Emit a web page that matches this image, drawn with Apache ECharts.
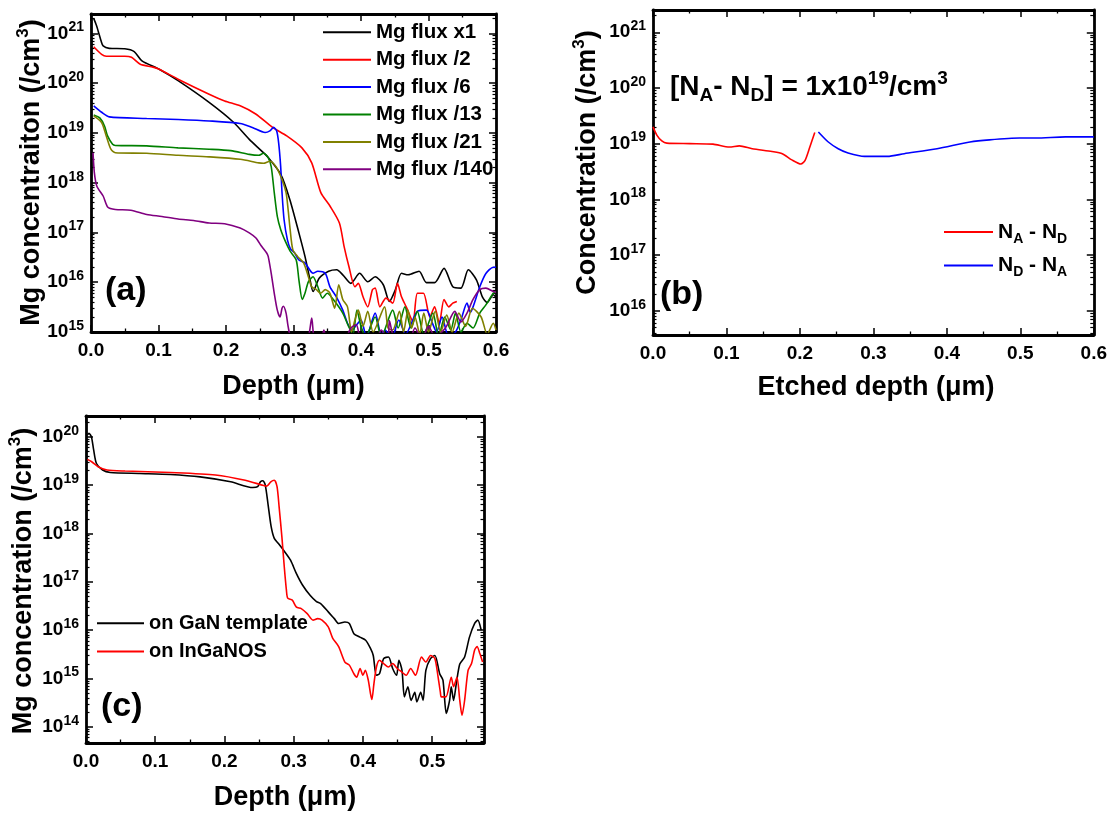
<!DOCTYPE html>
<html><head><meta charset="utf-8">
<script src="https://cdn.jsdelivr.net/npm/echarts@6/dist/echarts.min.js"></script>
<style>html,body{margin:0;padding:0;background:#fff}#c{width:1110px;height:816px}</style>
</head><body><div id="c"></div><script>
// ---------- DATA: [depth (µm), concentration (/cm3)] ----------
const aFluxX1 = [[0.004,2.0e21],[0.008,1.45e21],[0.011,1.07e21],[0.015,7.0e20],[0.018,5.6e20],[0.027,5.0e20],[0.05,4.9e20],[0.064,4.3e20],[0.0755,2.8e20],[0.101,1.9e20],[0.129,1.12e20],[0.175,4.1e19],[0.2115,1.62e19],[0.2345,7.4e18],[0.253,4.3e18],[0.2625,3.2e18],[0.281,1.48e18],[0.2945,4.6e17],[0.308,9.8e16],[0.317,3.3e16],[0.3245,1.12e16],[0.329,6.5e15],[0.338,1.2e16],[0.352,1.66e16],[0.364,1.78e16],[0.373,1.41e16],[0.385,9.5e15],[0.398,1.51e16],[0.41,1.02e16],[0.421,1.29e16],[0.433,8.9e15],[0.442,4.1e15],[0.451,7.1e15],[0.46,1.51e16],[0.47,1.41e16],[0.486,1.66e16],[0.497,9.8e15],[0.509,9.8e15],[0.523,1.9e16],[0.536,8.1e15],[0.548,7.6e15],[0.559,1.78e16],[0.571,1.12e16],[0.58,5.0e15],[0.587,3.9e15],[0.596,5.6e15],[0.6,5.0e15]];
const aFluxDiv2 = [[0.004,5.4e20],[0.0157,3.8e20],[0.0226,3.47e20],[0.05,3.47e20],[0.06,3.3e20],[0.073,2.4e20],[0.092,2.1e20],[0.101,1.9e20],[0.129,1.2e20],[0.175,6.0e19],[0.198,4.4e19],[0.221,3.5e19],[0.244,2.4e19],[0.269,1.29e19],[0.29,8.7e18],[0.3125,5.0e18],[0.327,2.5e18],[0.3405,6.3e17],[0.354,3.4e17],[0.368,1.55e17],[0.375,5.2e16],[0.382,2.1e16],[0.391,8.1e15],[0.396,9.5e15],[0.403,5.1e15],[0.41,3.2e15],[0.417,7.1e15],[0.421,7.6e15],[0.428,3.2e15],[0.437,4.8e15],[0.447,3.8e15],[0.454,9.5e15],[0.46,5.1e15],[0.467,3.2e15],[0.477,1.62e15],[0.4835,6.0e15],[0.4925,6.0e15],[0.502,2.0e15],[0.509,3.2e15],[0.516,1.5e15],[0.523,4.5e15],[0.53,3.2e15],[0.536,3.8e15],[0.542,4.1e15]];
const aFluxDiv6 = [[0.004,3.5e19],[0.0157,2.6e19],[0.027,2.1e19],[0.0825,1.95e19],[0.129,1.86e19],[0.175,1.74e19],[0.221,1.55e19],[0.239,1.29e19],[0.258,1.02e19],[0.265,1.1e19],[0.2705,1.29e19],[0.275,1.1e19],[0.278,6.3e18],[0.281,2.1e18],[0.283,6.3e17],[0.286,1.82e17],[0.291,7.1e16],[0.2955,4.7e16],[0.3015,3.9e16],[0.308,2.8e16],[0.317,2.45e16],[0.329,1.51e16],[0.336,1.66e16],[0.347,1.51e16],[0.354,8.1e15],[0.3635,5.1e15],[0.373,2.75e15],[0.38,1.5e15],[0.387,1.1e15],[0.391,1.26e15],[0.4,1.74e15],[0.408,8e14],[0.421,2.4e15],[0.43,9e14],[0.436,1.1e15],[0.445,7e14],[0.456,1.74e15],[0.466,9e14],[0.4835,2.6e15],[0.497,2.75e15],[0.505,1.6e15],[0.512,1.0e15],[0.52,2.0e15],[0.53,8e14],[0.54,1.0e15],[0.548,1.74e15],[0.557,3.8e15],[0.562,2.5e15],[0.566,3.2e15],[0.576,8.1e15],[0.585,1.5e16],[0.596,2.0e16],[0.6,2.0e16]];
const aFluxDiv13 = [[0.004,2.3e19],[0.013,2.0e19],[0.02,1.38e19],[0.0245,8.7e18],[0.032,5.9e18],[0.036,5.6e18],[0.0825,5.5e18],[0.129,5.0e18],[0.175,4.7e18],[0.207,4.4e18],[0.2345,3.7e18],[0.2485,3.55e18],[0.2555,3.9e18],[0.2625,3.2e18],[0.267,2.1e18],[0.2715,6.3e17],[0.276,2.1e17],[0.281,1.15e17],[0.288,6.6e16],[0.295,4.2e16],[0.304,2.8e16],[0.308,1.12e16],[0.313,4.5e15],[0.317,6.0e15],[0.322,1.02e16],[0.329,1.29e16],[0.336,8.1e15],[0.343,4.8e15],[0.35,6.0e15],[0.359,4.5e15],[0.373,2.4e15],[0.382,1.26e15],[0.388,9e14],[0.394,2.75e15],[0.4,1.3e15],[0.407,8e14],[0.421,2.0e15],[0.43,8e14],[0.447,2.75e15],[0.455,1.2e15],[0.465,3.2e15],[0.474,1.2e15],[0.4835,2.6e15],[0.493,9e14],[0.5065,2.4e15],[0.515,8e14],[0.524,2.0e15],[0.533,1.1e15],[0.54,2.4e15],[0.548,1.0e15],[0.557,1.5e15],[0.566,1.2e15],[0.576,2.4e15],[0.585,3.5e15],[0.596,6.0e15],[0.6,6.3e15]];
const aFluxDiv21 = [[0.004,2.2e19],[0.0157,1.62e19],[0.0226,8.7e18],[0.0295,4.7e18],[0.036,4.0e18],[0.0825,3.9e18],[0.129,3.55e18],[0.175,3.3e18],[0.221,2.95e18],[0.2485,2.5e18],[0.2555,2.45e18],[0.265,2.7e18],[0.274,2.1e18],[0.283,1.15e18],[0.289,6.3e17],[0.292,2.9e17],[0.295,1.15e17],[0.299,4.5e16],[0.306,3.3e16],[0.315,2.45e16],[0.322,1.29e16],[0.327,8.1e15],[0.334,7.1e15],[0.34,6.0e15],[0.347,7.1e15],[0.354,6.0e15],[0.361,3.0e15],[0.367,8.9e15],[0.373,4.5e15],[0.38,3.2e15],[0.386,1.0e15],[0.391,1.74e15],[0.396,2.75e15],[0.403,1.3e15],[0.41,2.6e15],[0.418,1.0e15],[0.435,3.2e15],[0.44,1.2e15],[0.447,1.1e15],[0.457,2.6e15],[0.463,1.0e15],[0.4696,2.75e15],[0.475,1.2e15],[0.48,2.0e15],[0.487,9e14],[0.493,2.4e15],[0.5,1.0e15],[0.51,2.6e15],[0.518,1.0e15],[0.527,2.2e15],[0.535,1.0e15],[0.545,2.4e15],[0.555,1.3e15],[0.565,3.0e15],[0.578,2.0e15],[0.587,9e14],[0.596,1.5e15],[0.6,1.1e15]];
const aFluxDiv140 = [[0.003,4.0e18],[0.005,1.58e18],[0.0087,8.5e17],[0.018,5.4e17],[0.025,3.2e17],[0.036,2.9e17],[0.059,2.8e17],[0.0825,2.3e17],[0.105,2.1e17],[0.129,1.86e17],[0.152,1.74e17],[0.175,1.55e17],[0.198,1.5e17],[0.221,1.23e17],[0.2345,9.8e16],[0.244,7.8e16],[0.253,5.2e16],[0.26,3.9e16],[0.2625,3.3e16],[0.267,1.5e16],[0.2715,6.0e15],[0.276,2.75e15],[0.28,2.0e15],[0.283,3.0e15],[0.285,3.3e15],[0.289,2.4e15],[0.292,1.3e15],[0.298,6e14],[0.31,5e14],[0.322,8e14],[0.327,1.9e15],[0.331,7e14],[0.34,6e14],[0.345,1.1e15],[0.35,6e14],[0.37,5e14],[0.385,1.2e15],[0.393,1.4e15],[0.4,7e14],[0.42,6e14],[0.43,1.1e15],[0.44,7e14],[0.442,1.7e15],[0.45,7e14],[0.47,6e14],[0.48,1.2e15],[0.49,7e14],[0.5,1.3e15],[0.51,8e14],[0.525,1.2e15],[0.539,2.6e15],[0.548,1.6e15],[0.557,2.4e15],[0.566,4.5e15],[0.576,7.1e15],[0.585,7.6e15],[0.596,6.5e15],[0.6,6.3e15]];
const bNaNd = [[0.0,2.0e19],[0.0054,1.41e19],[0.012,1.12e19],[0.0188,1.02e19],[0.05,1.0e19],[0.0816,9.8e18],[0.104,8.7e18],[0.1175,9.1e18],[0.135,8.1e18],[0.162,7.2e18],[0.176,6.6e18],[0.189,5.1e18],[0.2013,4.3e18],[0.207,5.0e18],[0.2135,8.7e18],[0.2202,1.58e19]];
const bNdNa = [[0.2251,1.62e19],[0.2386,1.07e19],[0.2521,8.1e18],[0.2655,6.8e18],[0.288,5.9e18],[0.319,5.9e18],[0.342,6.6e18],[0.3866,8.1e18],[0.4314,1.07e19],[0.458,1.17e19],[0.4987,1.26e19],[0.521,1.26e19],[0.5615,1.32e19],[0.6,1.32e19]];
const cGaN = [[0.002,1.1e20],[0.0043,1.17e20],[0.0078,1.0e20],[0.011,5.4e19],[0.0151,2.8e19],[0.024,2.05e19],[0.035,1.82e19],[0.078,1.74e19],[0.122,1.66e19],[0.165,1.48e19],[0.209,1.17e19],[0.241,8.9e18],[0.248,9.3e18],[0.252,1.17e19],[0.2555,1.23e19],[0.259,1.0e19],[0.263,4.0e18],[0.2675,1.38e18],[0.272,7.9e17],[0.278,6.2e17],[0.287,4.2e17],[0.2955,2.8e17],[0.304,1.48e17],[0.313,8.5e16],[0.324,5.2e16],[0.333,3.9e16],[0.339,3.55e16],[0.35,2.4e16],[0.3587,1.74e16],[0.365,1.38e16],[0.374,1.48e16],[0.3805,1.38e16],[0.387,8.5e15],[0.3956,7.2e15],[0.404,6.2e15],[0.411,4.2e15],[0.415,3.0e15],[0.4195,1.17e15],[0.424,1.26e15],[0.43,2.6e15],[0.437,2.8e15],[0.443,1.62e15],[0.4487,1.17e15],[0.452,2.4e15],[0.4565,1.48e15],[0.46,4.2e14],[0.465,6.8e14],[0.4696,3.55e14],[0.475,5.2e14],[0.478,3.3e14],[0.4835,5.2e14],[0.487,3.55e14],[0.491,1.48e15],[0.4977,2.6e15],[0.504,3.0e15],[0.511,1.26e15],[0.5157,9.3e14],[0.5205,1.9e14],[0.5253,3.55e14],[0.5277,6.8e14],[0.531,3.55e14],[0.535,7.9e14],[0.54,2.0e15],[0.547,2.8e15],[0.554,7.2e15],[0.5615,1.38e16],[0.566,1.62e16],[0.571,1.0e16]];
const cInGaNOS = [[0.002,3.4e19],[0.0087,3.0e19],[0.0174,2.4e19],[0.0304,2.05e19],[0.0565,1.95e19],[0.122,1.82e19],[0.187,1.62e19],[0.23,1.26e19],[0.2565,9.8e18],[0.261,9.5e18],[0.267,1.17e19],[0.272,1.26e19],[0.276,9.3e18],[0.279,3.55e18],[0.283,8.5e17],[0.2865,2.0e17],[0.2895,6.8e16],[0.2914,4.6e16],[0.298,4.2e16],[0.304,3.0e16],[0.311,2.8e16],[0.3196,2.2e16],[0.328,1.62e16],[0.3347,1.74e16],[0.341,1.62e16],[0.35,1.17e16],[0.3565,6.8e15],[0.365,4.6e15],[0.374,2.2e15],[0.3805,1.9e15],[0.387,1.26e15],[0.391,1.07e15],[0.396,1.62e15],[0.4,1.17e15],[0.4035,1.48e15],[0.4078,9.3e14],[0.411,4.9e14],[0.413,3.7e14],[0.416,7.9e14],[0.4196,1.74e15],[0.424,2.4e15],[0.43,2.05e15],[0.437,1.74e15],[0.443,2.05e15],[0.4496,1.62e15],[0.456,1.38e15],[0.4626,1.17e15],[0.469,1.62e15],[0.476,1.17e15],[0.4847,2.8e15],[0.491,2.2e15],[0.4977,3.0e15],[0.504,2.6e15],[0.5087,1.07e15],[0.512,5.2e14],[0.5133,4.2e14],[0.52,4.2e14],[0.5277,1.07e15],[0.531,6.8e14],[0.536,1.07e15],[0.54,3.55e14],[0.5432,1.74e14],[0.547,3.55e14],[0.552,1.48e15],[0.557,2.05e15],[0.5615,3.9e15],[0.565,4.6e15],[0.569,3.3e15],[0.573,2.2e15]];

const namesA = ['Mg flux x1','Mg flux /2','Mg flux /6','Mg flux /13','Mg flux /21','Mg flux /140'];
const namesB = ['NA - ND','ND - NA'];
const namesC = ['on GaN template','on InGaNOS'];
const xRanges = [[0,0.6],[0,0.6],[0,0.575]];
const yRanges = [[1e15,2.45e21],[3.66e15,2.51e21],[4.67e13,2.68e20]];

// ---------- LAYOUT / STYLE ----------
const FONT = '"Liberation Sans", Arial, Helvetica, sans-serif';
const grids = [
  {left:91, top:14, width:405, height:318},
  {left:653, top:10, width:446, height:325},
  {left:86, top:416, width:398, height:327}
];
const black = '#000';
const xAxes = [], yAxes = [];
function xLab(v){ return Math.abs(v*10-Math.round(v*10))<1e-6 ? v.toFixed(1) : ''; }
function yLab(v){ const e=Math.log10(v); return Math.abs(e-Math.round(e))<1e-6 ? '{b|10}{s|'+Math.round(e)+'}' : ''; }
const yRich = {
  b:{fontSize:19,fontWeight:'bold',fontFamily:FONT,color:black,lineHeight:26,verticalAlign:'middle'},
  s:{fontSize:14,fontWeight:'bold',fontFamily:FONT,color:black,lineHeight:14,verticalAlign:'top'}
};
grids.forEach((g,i)=>{
  ['bottom','top'].forEach(pos=>{
    xAxes.push({gridIndex:i,type:'value',position:pos,min:xRanges[i][0],max:xRanges[i][1],interval:0.1,
      axisLine:{show:true,onZero:false,lineStyle:{color:black,width:2.8}},
      axisTick:{show:true,inside:true,length:7,lineStyle:{color:black,width:1.5}},
      minorTick:{show:true,splitNumber:2,length:3.5,lineStyle:{color:black,width:1.3}},
      splitLine:{show:false},
      axisLabel:{show:pos==='bottom',color:black,fontSize:19,fontWeight:'bold',fontFamily:FONT,margin:9,formatter:xLab}});
  });
  ['left','right'].forEach(pos=>{
    yAxes.push({gridIndex:i,type:'log',logBase:10,position:pos,min:yRanges[i][0],max:yRanges[i][1],
      axisLine:{show:true,onZero:false,lineStyle:{color:black,width:2.8}},
      axisTick:{show:true,inside:true,length:7,lineStyle:{color:black,width:1.5}},
      minorTick:{show:true,splitNumber:9,length:3.5,lineStyle:{color:black,width:1.2}},
      splitLine:{show:false},minorSplitLine:{show:false},
      axisLabel:{show:pos==='left',margin:7,formatter:yLab,rich:yRich}});
  });
});

function mk(name,data,color,gi){
  return {name,type:'line',data,xAxisIndex:gi*2,yAxisIndex:gi*2,showSymbol:false,symbol:'none',
    smooth:0.25,lineStyle:{color,width:1.6},itemStyle:{color},animation:false,z:3};
}
const series = [
  mk(namesA[0],aFluxX1,'#000000',0),
  mk(namesA[1],aFluxDiv2,'#ff0000',0),
  mk(namesA[2],aFluxDiv6,'#0000ff',0),
  mk(namesA[3],aFluxDiv13,'#008000',0),
  mk(namesA[4],aFluxDiv21,'#808000',0),
  mk(namesA[5],aFluxDiv140,'#800080',0),
  mk(namesB[0],bNaNd,'#ff0000',1),
  mk(namesB[1],bNdNa,'#0000ff',1),
  mk(namesC[0],cGaN,'#000000',2),
  mk(namesC[1],cInGaNOS,'#ff0000',2)
];

const legBase = {orient:'vertical',icon:'rect',itemHeight:2,padding:0,selectedMode:false};
const legends = [
  Object.assign({},legBase,{data:namesA,left:323,top:18.6,itemWidth:48,itemGap:0,
    textStyle:{fontSize:20.5,fontWeight:'bold',fontFamily:FONT,color:black,lineHeight:27.4}}),
  Object.assign({},legBase,{data:namesB,left:944,top:218,itemWidth:49,itemGap:5.4,
    formatter:n=> n==='NA - ND' ? '{n|N}{d|A}{n| - N}{d|D}' : '{n|N}{d|D}{n| - N}{d|A}',
    textStyle:{fontSize:21,fontWeight:'bold',fontFamily:FONT,color:black,lineHeight:28,
      rich:{n:{fontSize:21,fontWeight:'bold',fontFamily:FONT,color:black,lineHeight:28,verticalAlign:'middle'},
            d:{fontSize:14,fontWeight:'bold',fontFamily:FONT,color:black,lineHeight:14,verticalAlign:'bottom'}}}}),
  Object.assign({},legBase,{data:namesC,left:97,top:609,itemWidth:47,itemGap:0,
    textStyle:{fontSize:20,fontWeight:'bold',fontFamily:FONT,color:black,lineHeight:28.4}})
];

function rt(size){ return {fontSize:size,fontWeight:'bold',fontFamily:FONT,fill:black,color:black}; }
const titleRich = {
  t:Object.assign(rt(27),{lineHeight:34,verticalAlign:'middle'}),
  s:Object.assign(rt(17),{lineHeight:17,verticalAlign:'top'})
};
function gText(x,y,text,opts){
  return {type:'text',x,y,z:100,style:Object.assign({text,fontSize:27,fontWeight:'bold',fontFamily:FONT,fill:black,align:'center',verticalAlign:'middle',rich:titleRich},opts||{})};
}
const graphics = [
  Object.assign(gText(32,172.5,'{t|Mg concentraiton (/cm}{s|3}{t|)}'),{rotation:Math.PI/2}),
  gText(293.5,387,'{t|Depth (μm)}'),
  Object.assign(gText(587.5,162.5,'{t|Concentration (/cm}{s|3}{t|)}'),{rotation:Math.PI/2}),
  gText(876,388,'{t|Etched depth (μm)}'),
  Object.assign(gText(24,581,'{t|Mg concentration (/cm}{s|3}{t|)}'),{rotation:Math.PI/2}),
  gText(285,798,'{t|Depth (μm)}'),
  gText(105,291,'(a)',{align:'left',fontSize:34,rich:{}}),
  gText(660,295,'(b)',{align:'left',fontSize:34,rich:{}}),
  gText(101,707,'(c)',{align:'left',fontSize:34,rich:{}}),
  gText(670,87,'{n|[N}{d|A}{n|- N}{d|D}{n|] = 1x10}{u|19}{n|/cm}{u|3}',{align:'left',rich:{
    n:Object.assign(rt(28),{lineHeight:36,verticalAlign:'middle'}),
    d:Object.assign(rt(19),{lineHeight:19,verticalAlign:'bottom'}),
    u:Object.assign(rt(19),{lineHeight:19,verticalAlign:'top'})}})
];

const chart = echarts.init(document.getElementById('c'),null,{renderer:'canvas'});
chart.setOption({
  animation:false,backgroundColor:'#fff',
  grid:grids.map(g=>Object.assign({containLabel:false},g)),
  xAxis:xAxes,yAxis:yAxes,series,legend:legends,graphic:graphics
});
</script></body></html>
